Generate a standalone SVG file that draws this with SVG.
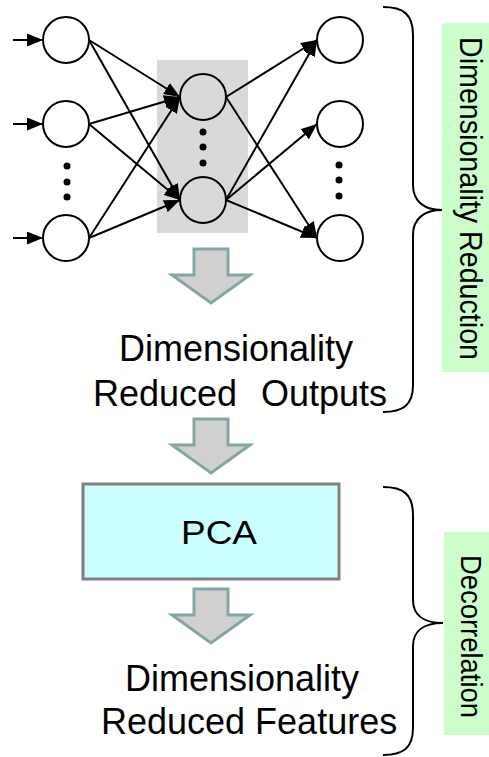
<svg xmlns="http://www.w3.org/2000/svg" width="489" height="757" viewBox="0 0 489 757">
  <defs>
    <marker id="arrowhead" viewBox="0 0 16 13" refX="16" refY="6.5" markerWidth="16" markerHeight="13" markerUnits="userSpaceOnUse" orient="auto">
      <path d="M0,0 L16,6.5 L0,13 Z" fill="#000"/>
    </marker>
    <path id="blockArrow" d="M194,0 L228,0 L228,26 L250,26 L211,54 L172,26 L194,26 Z"/>
  </defs>
  <style>
    .node { fill: #fff; stroke: #000; stroke-width: 2; }
    .hidden { fill: none; stroke: #000; stroke-width: 2; }
    .edge { stroke: #000; stroke-width: 2; fill: none; marker-end: url(#arrowhead); }
    .dot { fill: #000; }
    .brace { fill: none; stroke: #000; stroke-width: 2; }
    .flow { fill: #d0d0d0; stroke: #86a6a6; stroke-width: 3; stroke-linejoin: miter; }
    .label { font-family: "Liberation Sans", Arial, sans-serif; fill: #000; }
    .tag { fill: #ccffcc; }
  </style>

  <rect width="489" height="757" fill="#fff"/>

  <!-- bottleneck layer background -->
  <rect id="bottleneck-bg" x="157" y="60" width="91" height="173" fill="#d9d9d9"/>

  <!-- neurons -->
  <g id="input-1"><circle class="node" cx="66" cy="40" r="23"/></g>
  <g id="input-2"><circle class="node" cx="66" cy="124" r="23"/></g>
  <g id="input-dots">
    <circle class="dot" cx="67" cy="166" r="3.5"/>
    <circle class="dot" cx="67" cy="182" r="3.5"/>
    <circle class="dot" cx="67" cy="197" r="3.5"/>
  </g>
  <g id="input-3"><circle class="node" cx="66" cy="238" r="23"/></g>

  <g id="hidden-1"><circle class="hidden" cx="203" cy="97" r="23"/></g>
  <g id="hidden-dots">
    <circle class="dot" cx="203" cy="132" r="3.5"/>
    <circle class="dot" cx="203" cy="147" r="3.5"/>
    <circle class="dot" cx="203" cy="163" r="3.5"/>
  </g>
  <g id="hidden-2"><circle class="hidden" cx="203" cy="200" r="23"/></g>

  <g id="output-1"><circle class="node" cx="340" cy="40" r="23"/></g>
  <g id="output-2"><circle class="node" cx="340" cy="124" r="23"/></g>
  <g id="output-dots">
    <circle class="dot" cx="339" cy="165" r="3.5"/>
    <circle class="dot" cx="339" cy="180" r="3.5"/>
    <circle class="dot" cx="339" cy="196" r="3.5"/>
  </g>
  <g id="output-3"><circle class="node" cx="340" cy="238" r="23"/></g>

  <!-- connections -->
  <g id="connectors">
    <path class="edge" d="M13,40 L43,40"/>
    <path class="edge" d="M13,124 L43,124"/>
    <path class="edge" d="M13,238 L43,238"/>

    <path class="edge" d="M89,40 L180,97"/>
    <path class="edge" d="M89,40 L180,200"/>
    <path class="edge" d="M89,124 L180,97"/>
    <path class="edge" d="M89,124 L180,200"/>
    <path class="edge" d="M89,238 L180,97"/>
    <path class="edge" d="M89,238 L180,200"/>

    <path class="edge" d="M226,97 L317,40"/>
    <path class="edge" d="M226,97 L317,238"/>
    <path class="edge" d="M226,200 L317,40"/>
    <path class="edge" d="M226,200 L317,124"/>
    <path class="edge" d="M226,200 L317,238"/>
  </g>

  <!-- flow arrows -->
  <g id="flow-1"><use href="#blockArrow" class="flow" transform="translate(0,249)"/></g>
  <g id="flow-2"><use href="#blockArrow" class="flow" transform="translate(0,419)"/></g>
  <g id="flow-3"><use href="#blockArrow" class="flow" transform="translate(0,589)"/></g>

  <!-- outputs of the reduction stage -->
  <g id="reduced-outputs">
    <text class="label" font-size="36" x="119" y="361">Dimensionality</text>
    <text class="label" font-size="36" x="93" y="406" xml:space="preserve">Reduced  <tspan x="261">Outputs</tspan></text>
  </g>

  <!-- PCA block -->
  <g id="pca">
    <rect x="83" y="484" width="256" height="95" fill="#ccffff" stroke="#808080" stroke-width="3"/>
    <text class="label" font-size="34" x="219" y="544" text-anchor="middle" textLength="76" lengthAdjust="spacingAndGlyphs">PCA</text>
  </g>

  <g id="reduced-features">
    <text class="label" font-size="36" x="125" y="691">Dimensionality</text>
    <text class="label" font-size="36" x="101" y="734">Reduced Features</text>
  </g>

  <!-- stage braces -->
  <g id="stage-braces">
    <path class="brace" d="M383,7 C403,7 413,14 413,35 L413,185 C413,202 425,210 442,210 C425,210 413,218 413,235 L413,385 C413,405 403,412 383,412"/>
    <path class="brace" d="M383,487 C403,487 413,494 413,515 L413,600 C413,616 425,623 443,623 C425,623 413,630 413,646 L413,728 C413,748 403,755 383,755"/>
  </g>

  <!-- stage labels -->
  <g id="stage-dimred">
    <rect class="tag" x="442" y="23" width="47" height="349"/>
    <text class="label" font-size="30.5" transform="translate(460,198.5) rotate(90)" text-anchor="middle" textLength="323" lengthAdjust="spacingAndGlyphs">Dimensionality Reduction</text>
  </g>
  <g id="stage-decorr">
    <rect class="tag" x="444" y="532" width="45" height="203"/>
    <text class="label" font-size="29" transform="translate(461,636.5) rotate(90)" text-anchor="middle" textLength="163" lengthAdjust="spacingAndGlyphs">Decorrelation</text>
  </g>
</svg>
